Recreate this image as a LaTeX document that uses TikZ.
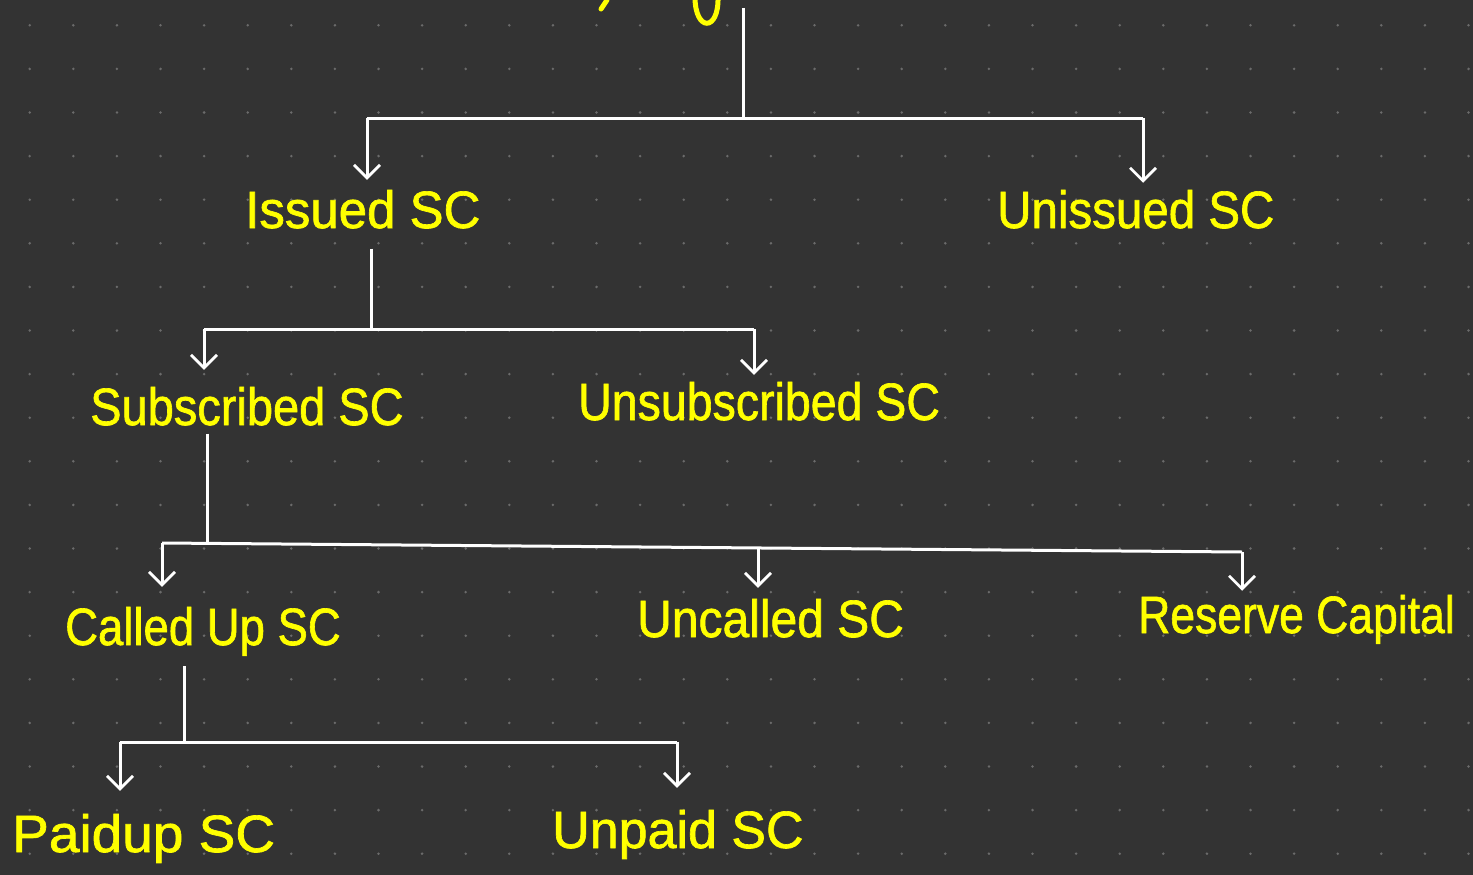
\documentclass[tikz,border=0pt]{standalone}
\usepackage{fontspec}
\setmainfont{Liberation Sans}
\newfontfamily\hand{Liberation Sans}[FakeBold=1.3]
\usetikzlibrary{arrows.meta,calc}
\definecolor{bg}{HTML}{333333}
\definecolor{dotc}{HTML}{6B6B6B}
\definecolor{ink}{HTML}{FFFF00}
\begin{document}
\begin{tikzpicture}[x=1pt,y=-1pt,
 lbl/.style={anchor=base west, inner sep=0pt, text=ink, font=\hand\fontsize{50}{50}\selectfont},
 wire/.style={draw=white, line width=3pt},
 arr/.style={wire, -{Straight Barb[length=13pt,width=26pt,line width=2.8pt]}},
 inkstroke/.style={draw=ink, line width=5pt, line cap=round}]
\fill[bg] (0,0) rectangle (1473,875);
\useasboundingbox (0,0) rectangle (1473,875);
\foreach \i in {0,...,33}
  \foreach \j in {0,...,19}
    \fill[dotc] (29.7+43.6*\i, 25.3+43.6*\j) circle (1.4);
% cut-off title fragments at the top edge
\draw[inkstroke] (601,9) -- (607,0);
\draw[inkstroke] (695,-3) .. controls (695,32) and (719,32) .. (718,-3);
% labels
\node[lbl] (iss) at (245,228) {\scalebox{1.02}[1.05]{Issued SC}};
\node[lbl] (uni) at (997,228) {\scalebox{0.95}[1.05]{Unissued SC}};
\node[lbl] (sub) at (90,425) {\scalebox{0.94}[1.05]{Subscribed SC}};
\node[lbl] (uns) at (578,420) {\scalebox{0.93}[1.05]{Unsubscribed SC}};
\node[lbl] (cal) at (65,645) {\scalebox{0.91}[1.05]{Called Up SC}};
\node[lbl] (unc) at (637,637) {\scalebox{0.96}[1.05]{Uncalled SC}};
\node[lbl] (res) at (1138,633) {\scalebox{0.89}[1.05]{Reserve Capital}};
\node[lbl] (pai) at (12,852) {\scalebox{1.1}[1.05]{Paidup SC}};
\node[lbl] (unp) at (552,848) {\scalebox{1.04}[1.05]{Unpaid SC}};
% level 1
\coordinate (t0) at (743,8);
\coordinate (h1) at (743,120);
\coordinate (h1l) at (367,118);
\coordinate (h1r) at (1143,118);
\draw[wire] (t0) -- (h1);
\draw[wire] (h1l) -- (h1r);
\draw[arr] (h1l) -- ($(iss.north -| h1l)+(0,-10)$);
\draw[arr] (h1r) -- ($(uni.north -| h1r)+(0,-7)$);
% level 2
\coordinate (h2) at (371,329);
\coordinate (h2l) at (204,329);
\coordinate (h2r) at (754,329);
\draw[wire] ($(iss.south -| h2)+(0,20)$) -- (h2);
\draw[wire] (h2l) -- (h2r);
\draw[arr] (h2l) -- ($(sub.north -| h2l)+(0,-17)$);
\draw[arr] (h2r) -- ($(uns.north -| h2r)+(0,-7)$);
% level 3
\coordinate (h3) at (207,543.4);
\coordinate (h3l) at (162,543);
\coordinate (h3m) at (758,548);
\coordinate (h3r) at (1242,552);
\draw[wire] ($(sub.south -| h3)+(0,8)$) -- (h3);
\draw[wire] (h3l) -- (h3r);
\draw[arr] (h3l) -- ($(cal.north -| h3l)+(0,-20)$);
\draw[arr] (h3m) -- ($(unc.north -| h3m)+(0,-11)$);
\draw[arr] (h3r) -- ($(res.north -| h3r)+(0,-4)$);
% level 4
\coordinate (h4) at (184,742);
\coordinate (h4l) at (120,742);
\coordinate (h4r) at (677,742);
\draw[wire] ($(cal.south -| h4)+(0,10)$) -- (h4);
\draw[wire] (h4l) -- (h4r);
\draw[arr] (h4l) -- ($(pai.north -| h4l)+(0,-23)$);
\draw[arr] (h4r) -- ($(unp.north -| h4r)+(0,-22)$);
\end{tikzpicture}
\end{document}
